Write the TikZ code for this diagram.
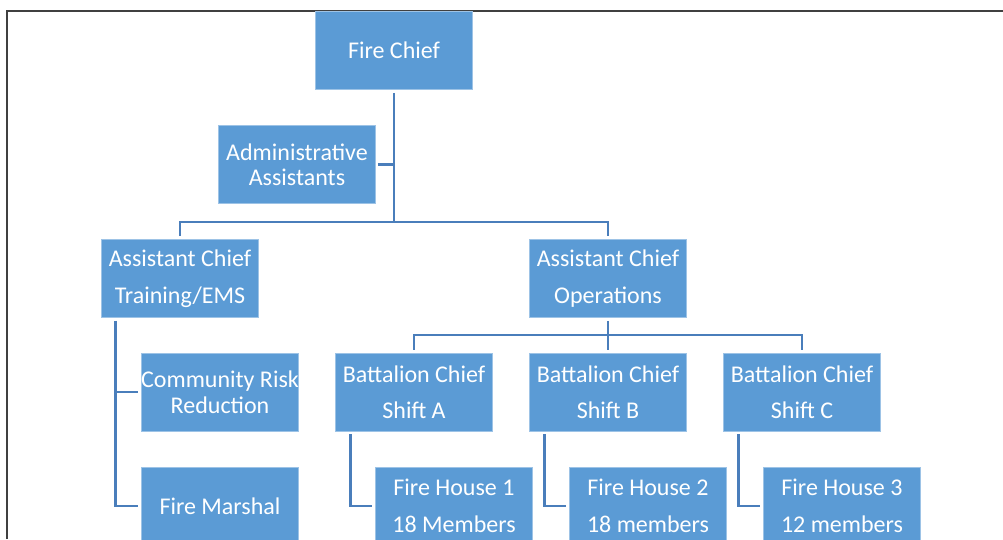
\documentclass[tikz,border=0pt]{standalone}
\usepackage{fontspec}
\setmainfont{Carlito}
\usetikzlibrary{positioning}
\definecolor{boxblue}{HTML}{5B9BD5}
\definecolor{linkblue}{HTML}{4A7EBB}
\definecolor{framegray}{HTML}{404040}
\tikzset{
box/.style={
  rectangle,
  inner sep=0pt,
  minimum width=157pt,
  minimum height=78pt,
  align=center,
  draw=boxblue!60!white,
  line width=0.8pt,
  fill=boxblue,
  text=white,
  font=\fontsize{24}{25.5}\selectfont
  },
tall/.style={
  font=\fontsize{24}{36.5}\selectfont
  },
link/.style={
  draw=linkblue,
  line width=2.8pt
  }
}

\begin{document}
\begin{tikzpicture}[x=1pt,y=-1pt]
    \useasboundingbox (0,0) rectangle (1003,539);
    \clip (0,0) rectangle (1003,539);
    % frame
    \draw[framegray,line width=2.2pt] (7,539) -- (7,11) -- (1003,11);

    \node[box] (chief) at (394,50.5) {Fire Chief};
    \node[box] (admin) at (297,164.5) {Administrative\\Assistants};
    \node[box,tall] (acTrain) at (180,278.5) {Assistant Chief\\Training/EMS};
    \node[box,tall] (acOps) at (608,278.5) {Assistant Chief\\Operations};
    \node[box] (crr) at (220,392) {Community Risk\\Reduction};
    \node[box] (marshal) at (220,506) {Fire Marshal};
    \node[box,tall] (bcA) at (414,392) {Battalion Chief\\Shift A};
    \node[box,tall] (bcB) at (608,392) {Battalion Chief\\Shift B};
    \node[box,tall] (bcC) at (802,392) {Battalion Chief\\Shift C};
    \node[box,tall] (fh1) at (454,506) {Fire House 1\\18 Members};
    \node[box,tall] (fh2) at (648,506) {Fire House 2\\18 members};
    \node[box,tall] (fh3) at (842,506) {Fire House 3\\12 members};

    \coordinate (hub) at (394,222);
    \coordinate (opsHub) at (608,335);
    \coordinate (trainLeg) at ([xshift=14pt]acTrain.south west);

    \path[link,shorten <=3pt]
    (chief.south) edge[-] (hub)
    (acOps.south) edge[-] (opsHub)
    ;
    \draw[link,shorten <=2pt] (admin.east) -- (admin.east -| hub);
    \draw[link,shorten <=3pt,shorten >=3pt] (acTrain.north) |- (hub) -| (acOps.north);
    \draw[link,shorten <=3pt,shorten >=3pt] (bcA.north) |- (opsHub) -| (bcC.north);
    \draw[link,shorten >=3pt] (opsHub) -- (bcB.north);
    \draw[link,shorten <=3pt,shorten >=3pt] (trainLeg) |- (crr.west);
    \draw[link,shorten <=3pt,shorten >=3pt] (trainLeg) |- (marshal.west);
    \draw[link,shorten <=3pt,shorten >=3pt] ([xshift=15pt]bcA.south west) |- (fh1.west);
    \draw[link,shorten <=3pt,shorten >=3pt] ([xshift=15pt]bcB.south west) |- (fh2.west);
    \draw[link,shorten <=3pt,shorten >=3pt] ([xshift=15pt]bcC.south west) |- (fh3.west);
\end{tikzpicture}
\end{document}
